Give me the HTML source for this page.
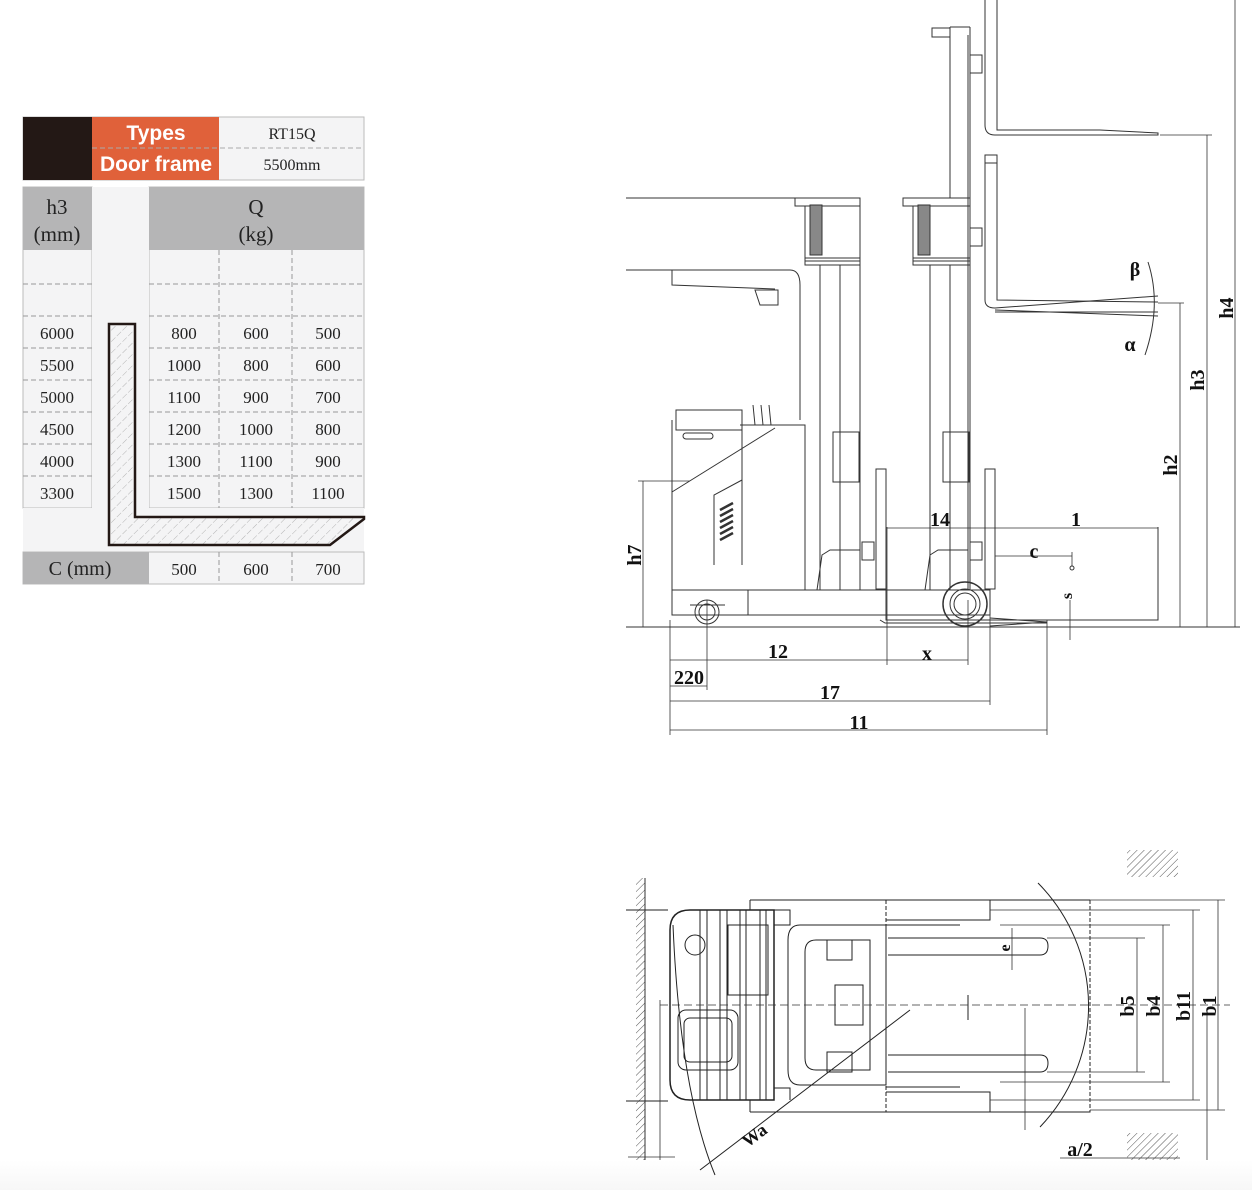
<!DOCTYPE html>
<html><head><meta charset="utf-8"><style>
html,body{margin:0;padding:0;background:#fff;}
svg{display:block}
.t{font-family:"Liberation Serif",serif;fill:#222}
.s{font-family:"Liberation Sans",sans-serif;fill:#fff}
.d{font-family:"Liberation Serif",serif;fill:#111;font-weight:bold}
</style></head><body>
<svg width="1252" height="1190" viewBox="0 0 1252 1190" xmlns="http://www.w3.org/2000/svg">
<defs>
<pattern id="hat" width="5" height="5" patternUnits="userSpaceOnUse" patternTransform="rotate(45)"><line x1="0" y1="0" x2="0" y2="5" stroke="#555" stroke-width="1"/></pattern>
<pattern id="hat2" width="8" height="8" patternUnits="userSpaceOnUse" patternTransform="rotate(45)"><line x1="0" y1="0" x2="0" y2="8" stroke="#999" stroke-width="0.7" stroke-dasharray="3 2"/></pattern>
<linearGradient id="bot" x1="0" y1="0" x2="0" y2="1"><stop offset="0" stop-color="#fff"/><stop offset="1" stop-color="#f7f7f7"/></linearGradient>
</defs>
<rect x="0" y="1160" width="1252" height="30" fill="url(#bot)"/>

<!-- TABLE -->
<rect x="23" y="117" width="341" height="63" fill="#f4f4f5" stroke="#bbb"/>
<rect x="23" y="117" width="69" height="63" fill="#231815"/>
<rect x="92" y="117" width="127" height="63" fill="#e0613a"/>
<line x1="92" y1="148" x2="364" y2="148" stroke="#aaa" stroke-dasharray="5 3"/>
<text x="156" y="140" class="s" font-size="21" font-weight="bold" text-anchor="middle">Types</text>
<text x="156" y="171" class="s" font-size="21" font-weight="bold" text-anchor="middle">Door frame</text>
<text x="292" y="139" class="t" font-size="16" text-anchor="middle">RT15Q</text>
<text x="292" y="170" class="t" font-size="16" text-anchor="middle">5500mm</text>

<rect x="23" y="187" width="69" height="321" fill="#f4f4f5" stroke="#bbb"/>
<rect x="23" y="187" width="69" height="63" fill="#b5b5b6"/>
<rect x="149" y="187" width="215" height="321" fill="#f4f4f5" stroke="#bbb"/>
<rect x="149" y="187" width="215" height="63" fill="#b5b5b6"/>
<rect x="92" y="187" width="57" height="321" fill="#f4f4f5"/>
<text x="57" y="214" class="t" font-size="21" text-anchor="middle">h3</text>
<text x="57" y="241" class="t" font-size="21" text-anchor="middle">(mm)</text>
<text x="256" y="214" class="t" font-size="21" text-anchor="middle">Q</text>
<text x="256" y="241" class="t" font-size="21" text-anchor="middle">(kg)</text>
<g stroke="#999" stroke-dasharray="5 3">
<line x1="23" y1="284" x2="92" y2="284"/><line x1="23" y1="316" x2="92" y2="316"/><line x1="23" y1="348" x2="92" y2="348"/><line x1="23" y1="380" x2="92" y2="380"/><line x1="23" y1="412" x2="92" y2="412"/><line x1="23" y1="444" x2="92" y2="444"/><line x1="23" y1="476" x2="92" y2="476"/>
<line x1="149" y1="284" x2="364" y2="284"/><line x1="149" y1="316" x2="364" y2="316"/><line x1="149" y1="348" x2="364" y2="348"/><line x1="149" y1="380" x2="364" y2="380"/><line x1="149" y1="412" x2="364" y2="412"/><line x1="149" y1="444" x2="364" y2="444"/><line x1="149" y1="476" x2="364" y2="476"/>
<line x1="219" y1="250" x2="219" y2="508"/><line x1="292" y1="250" x2="292" y2="508"/>
</g>
<g class="t" font-size="17" text-anchor="middle">
<text x="57" y="339">6000</text><text x="57" y="371">5500</text><text x="57" y="403">5000</text><text x="57" y="435">4500</text><text x="57" y="467">4000</text><text x="57" y="499">3300</text>
<text x="184" y="339">800</text><text x="256" y="339">600</text><text x="328" y="339">500</text>
<text x="184" y="371">1000</text><text x="256" y="371">800</text><text x="328" y="371">600</text>
<text x="184" y="403">1100</text><text x="256" y="403">900</text><text x="328" y="403">700</text>
<text x="184" y="435">1200</text><text x="256" y="435">1000</text><text x="328" y="435">800</text>
<text x="184" y="467">1300</text><text x="256" y="467">1100</text><text x="328" y="467">900</text>
<text x="184" y="499">1500</text><text x="256" y="499">1300</text><text x="328" y="499">1100</text>
</g>
<rect x="23" y="508" width="341" height="44" fill="#f4f4f5"/>
<polygon points="109,324 135,324 135,517 364,517 364,519 330,545 109,545" fill="url(#hat2)" stroke="#231815" stroke-width="2.5"/>
<rect x="23" y="552" width="341" height="32" fill="#f4f4f5" stroke="#bbb"/>
<rect x="23" y="552" width="126" height="32" fill="#b5b5b6"/>
<g stroke="#999" stroke-dasharray="5 3"><line x1="219" y1="552" x2="219" y2="584"/><line x1="292" y1="552" x2="292" y2="584"/></g>
<text x="80" y="575" class="t" font-size="20" text-anchor="middle">C (mm)</text>
<g class="t" font-size="17" text-anchor="middle"><text x="184" y="575">500</text><text x="256" y="575">600</text><text x="328" y="575">700</text></g>

<!-- SIDE VIEW -->
<g stroke="#333" stroke-width="1" fill="none">
<line x1="626" y1="627" x2="1240" y2="627"/>
<line x1="626" y1="198" x2="860" y2="198"/>
<line x1="626" y1="270" x2="790" y2="270"/>
<path d="M672 270 H790 Q800 270 800 285 V420"/>
<path d="M672 270 V285 L775 289"/>
<path d="M755 290 H778 V305 H760 Z"/>
<path d="M672 420 V590 H805 V425 H740"/>
<path d="M676 410 H742 V430 H676 Z"/>
<line x1="742" y1="425" x2="742" y2="565"/>
<line x1="672" y1="492" x2="775" y2="428"/>
<path d="M714 565 V495 L742 480"/>
<g stroke-width="2.5"><line x1="720" y1="540" x2="733" y2="533"/><line x1="720" y1="534" x2="733" y2="527"/><line x1="720" y1="528" x2="733" y2="521"/><line x1="720" y1="522" x2="733" y2="515"/><line x1="720" y1="516" x2="733" y2="509"/><line x1="720" y1="510" x2="733" y2="503"/></g>
<rect x="683" y="433" width="30" height="6" rx="3"/>
<path d="M755 425 L753 405 M763 425 L761 405 M771 425 L769 405"/>
<path d="M672 565 V615 H748 V590"/>
<path d="M748 590 H990 V615 H748"/>
<circle cx="707" cy="612" r="12"/><circle cx="707" cy="612" r="8"/>
<line x1="690" y1="605" x2="725" y2="605"/>
<rect x="795" y="198" width="65" height="8"/>
<rect x="805" y="206" width="55" height="55"/>
<rect x="805" y="258" width="55" height="7"/>
<rect x="810" y="205" width="12" height="50" fill="#888"/>
<line x1="820" y1="265" x2="820" y2="590"/><line x1="840" y1="265" x2="840" y2="590"/><line x1="860" y1="198" x2="860" y2="590"/>
<rect x="833" y="432" width="26" height="50"/>
<path d="M817 590 L822 555 L830 550 H860"/>
<rect x="903" y="198" width="67" height="8"/>
<rect x="913" y="206" width="57" height="55"/>
<rect x="913" y="258" width="57" height="7"/>
<rect x="918" y="205" width="12" height="50" fill="#888"/>
<line x1="930" y1="265" x2="930" y2="590"/><line x1="950" y1="265" x2="950" y2="590"/>
<line x1="950" y1="27" x2="950" y2="198"/>
<line x1="970" y1="27" x2="970" y2="590"/><line x1="968" y1="35" x2="968" y2="590"/>
<path d="M950 27 H970 M932 28 H950 V37 H932 Z"/>
<rect x="943" y="432" width="26" height="50"/>
<path d="M925 590 L930 555 L938 550 H968"/>
<path d="M985 0 V125 Q985 135 995 135 H1158 V133 L1100 130 H997 V0"/>
<rect x="970" y="55" width="12" height="18"/>
<rect x="985" y="155" width="12" height="8"/>
<path d="M985 163 V300 Q985 308 995 308 L1158 296"/>
<path d="M997 163 V300 L1158 302"/>
<path d="M995 310 L1158 316 M995 312 L1158 312"/>
<rect x="970" y="228" width="12" height="18"/>
<rect x="876" y="469" width="10" height="120"/>
<rect x="985" y="469" width="10" height="120"/>
<rect x="862" y="542" width="12" height="18"/><rect x="970" y="542" width="12" height="18"/>
<circle cx="965" cy="604" r="22" stroke-width="1.5"/><circle cx="965" cy="604" r="15"/><circle cx="965" cy="604" r="11"/>
<path d="M886 527 V620 H1158 V527"/>
<path d="M990 618 L1047 622 L990 626"/>
<path d="M880 620 L885 623 H1047"/>
<path d="M1148 262 Q1162 305 1145 355"/>
</g>
<g stroke="#333" stroke-width="0.8" fill="none">
<line x1="1235" y1="0" x2="1235" y2="627"/>
<line x1="1207" y1="135" x2="1207" y2="627"/><line x1="1160" y1="135" x2="1212" y2="135"/>
<line x1="1180" y1="303" x2="1180" y2="627"/><line x1="1158" y1="303" x2="1184" y2="303"/>
<line x1="643" y1="481" x2="643" y2="627"/><line x1="638" y1="481" x2="690" y2="481"/>
<line x1="670" y1="620" x2="670" y2="735"/>
<line x1="887" y1="527" x2="887" y2="665"/>
<line x1="968" y1="600" x2="968" y2="665"/>
<line x1="707" y1="600" x2="707" y2="690"/>
<line x1="990" y1="615" x2="990" y2="705"/>
<line x1="1047" y1="620" x2="1047" y2="735"/>
<line x1="670" y1="660" x2="968" y2="660"/>
<line x1="670" y1="686" x2="707" y2="686"/>
<line x1="670" y1="701" x2="990" y2="701"/>
<line x1="670" y1="730" x2="1047" y2="730"/>
<line x1="887" y1="528" x2="1158" y2="528"/>
<line x1="995" y1="556" x2="1072" y2="556"/><line x1="1072" y1="552" x2="1072" y2="566"/>
<line x1="1070" y1="600" x2="1070" y2="640"/>
</g>
<circle cx="1072" cy="568" r="2" fill="none" stroke="#333"/>
<g class="d" font-size="20" text-anchor="middle">
<text x="778" y="658">12</text><text x="927" y="660">x</text><text x="689" y="684">220</text>
<text x="830" y="699">17</text><text x="859" y="729">11</text>
<text x="940" y="526">14</text><text x="1076" y="526">1</text><text x="1034" y="558">c</text>
<text x="1135" y="276">β</text><text x="1130" y="351">α</text>
<text transform="translate(641,555) rotate(-90)">h7</text>
<text transform="translate(1177,465) rotate(-90)">h2</text>
<text transform="translate(1204,380) rotate(-90)">h3</text>
<text transform="translate(1233,308) rotate(-90)">h4</text>
<text transform="translate(1072,596) rotate(-90)" font-size="16">s</text>
</g>

<!-- TOP VIEW -->
<rect x="636" y="878" width="9" height="282" fill="url(#hat)"/>
<line x1="645" y1="878" x2="645" y2="1160" stroke="#333"/>
<rect x="1127" y="850" width="51" height="27" fill="url(#hat)"/>
<rect x="1127" y="1133" width="51" height="27" fill="url(#hat)"/>
<g stroke="#222" stroke-width="1" fill="none">
<line x1="626" y1="910" x2="668" y2="910"/><line x1="626" y1="1101" x2="668" y2="1101"/>
<path d="M690 910 H774 V1100 H690 Q670 1100 670 1080 V930 Q670 910 690 910 Z" stroke-width="1.5"/>
<path d="M750 900 H1090 M750 1112 H1090 M750 900 V910 M750 1100 V1112"/>
<line x1="700" y1="910" x2="700" y2="1100"/><line x1="707" y1="910" x2="707" y2="1100"/>
<line x1="720" y1="910" x2="720" y2="1100"/><line x1="727" y1="910" x2="727" y2="1100"/>
<line x1="740" y1="910" x2="740" y2="1100"/><line x1="746" y1="910" x2="746" y2="1100"/>
<line x1="760" y1="910" x2="760" y2="1100"/><line x1="766" y1="910" x2="766" y2="1100"/>
<rect x="678" y="1010" width="60" height="60" rx="8"/>
<rect x="684" y="1018" width="48" height="44" rx="6"/>
<circle cx="695" cy="945" r="10"/>
<rect x="728" y="925" width="40" height="70"/>
<path d="M774 925 H790 V910 H774 M774 1088 H790 V1100"/>
<path d="M800 925 H886 V1085 H800 Q788 1085 788 1070 V940 Q788 925 800 925 Z"/>
<path d="M816 940 H870 V1070 H816 Q805 1070 805 1058 V952 Q805 940 816 940 Z"/>
<rect x="827" y="940" width="25" height="20"/><rect x="827" y="1052" width="25" height="20"/>
<rect x="835" y="985" width="28" height="40"/>
<rect x="886" y="900" width="204" height="212" stroke-dasharray="4 2"/>
<path d="M888 938 H1040 Q1048 938 1048 946 Q1048 955 1040 955 H888"/>
<path d="M888 1055 H1040 Q1048 1055 1048 1063 Q1048 1072 1040 1072 H888"/>
<path d="M886 920 H990 V900 M886 925 H960 M886 1087 H960 M886 1092 H990 V1112"/>
<path d="M1038 883 A175 175 0 0 1 1040 1127"/>
<path d="M673 925 Q680 1090 715 1175"/>
<line x1="700" y1="1170" x2="910" y2="1010"/>
<line x1="968" y1="995" x2="968" y2="1020"/>
</g>
<g stroke="#333" stroke-width="0.8" fill="none">
<line x1="660" y1="1005" x2="1230" y2="1005" stroke-dasharray="8 4"/>
<line x1="1047" y1="938" x2="1145" y2="938"/><line x1="1047" y1="1072" x2="1145" y2="1072"/>
<line x1="1137" y1="938" x2="1137" y2="1072"/>
<line x1="1000" y1="925" x2="1170" y2="925"/><line x1="1000" y1="1082" x2="1170" y2="1082"/>
<line x1="1163" y1="925" x2="1163" y2="1082"/>
<line x1="990" y1="910" x2="1200" y2="910"/><line x1="990" y1="1100" x2="1200" y2="1100"/>
<line x1="1193" y1="910" x2="1193" y2="1100"/>
<line x1="1090" y1="900" x2="1225" y2="900"/><line x1="1090" y1="1110" x2="1225" y2="1110"/>
<line x1="1218" y1="900" x2="1218" y2="1110"/>
<line x1="1012" y1="928" x2="1012" y2="970"/>
<line x1="1025" y1="1008" x2="1025" y2="1130"/>
<line x1="1207" y1="1010" x2="1207" y2="1160"/>
<line x1="1060" y1="1158" x2="1180" y2="1158"/>
<line x1="628" y1="1157" x2="675" y2="1157"/>
<line x1="660" y1="1000" x2="660" y2="1160"/>
</g>
<g class="d" font-size="20" text-anchor="middle">
<text x="1080" y="1156">a/2</text>
<text transform="translate(758,1140) rotate(-37)" font-size="18">Wa</text>
<text transform="translate(1134,1006) rotate(-90)">b5</text>
<text transform="translate(1160,1006) rotate(-90)">b4</text>
<text transform="translate(1190,1006) rotate(-90)">b11</text>
<text transform="translate(1216,1006) rotate(-90)">b1</text>
<text transform="translate(1010,948) rotate(-90)" font-size="16">e</text>
</g>
</svg>
</body></html>
